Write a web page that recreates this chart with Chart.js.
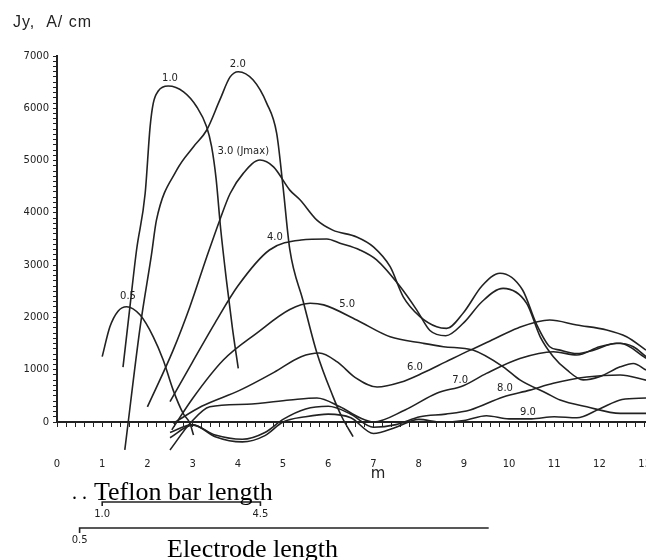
<!DOCTYPE html>
<html>
<head>
<meta charset="utf-8">
<title>Jy along the electrode</title>
<script src="https://cdn.jsdelivr.net/npm/chart.js@4.4.0/dist/chart.umd.min.js"></script>
<style>
  html, body { margin: 0; padding: 0; background: #fff; }
</style>
</head>
<body>
<canvas id="chart" width="646" height="560"></canvas>
<script>
// curve values (x in m, Jy in A/cm)
const c05X = [1.0, 1.17, 1.35, 1.54, 1.84, 2.13, 2.35, 2.57, 2.79, 2.94, 3.02];
const c05Y = [1250, 1820, 2120, 2205, 2045, 1630, 1185, 610, 165, -25, -250];

const c10X = [1.46, 1.6, 1.76, 1.95, 2.06, 2.13, 2.24, 2.46, 2.8, 3.09, 3.31, 3.42, 3.52, 3.62, 3.75, 3.88, 4.01];
const c10Y = [1050, 2100, 3290, 4370, 5650, 6100, 6330, 6425, 6315, 6030, 5645, 5265, 4650, 3700, 2700, 1800, 1025];

const c20X = [1.5, 1.84, 2.09, 2.2, 2.65, 3.02, 3.31, 3.6, 3.83, 4.01, 4.34, 4.64, 4.86, 5.0, 5.15, 5.44, 5.75, 6.1, 6.3, 6.55];
const c20Y = [-535, 1820, 3200, 3860, 4820, 5265, 5580, 6155, 6600, 6700, 6540, 6095, 5520, 4500, 3300, 2330, 1320, 500, 100, -280];

const c30X = [2.0, 2.57, 2.94, 3.31, 3.6, 3.83, 4.12, 4.49, 4.79, 5.15, 5.38, 5.75, 6.1, 6.63, 7.0, 7.37, 7.66, 8.03, 8.4, 8.62, 9.0, 9.4, 9.8, 10.3, 10.6, 10.9, 11.13, 11.5, 11.87, 12.38, 12.75, 13.03];
const c30Y = [290, 1375, 2205, 3150, 3860, 4370, 4755, 5010, 4880, 4435, 4245, 3860, 3670, 3540, 3350, 2970, 2395, 2015, 1820, 1790, 2100, 2600, 2845, 2525, 1885, 1440, 1375, 1310, 1375, 1505, 1440, 1250];

const c40X = [2.5, 3.0, 3.5, 4.0, 4.7, 5.4, 5.97, 6.26, 6.7, 7.07, 7.59, 7.96, 8.25, 8.6, 9.0, 9.4, 9.87, 10.39, 10.69, 10.98, 11.28, 11.64, 12.0, 12.46, 12.75, 13.03];
const c40Y = [390, 1150, 1900, 2600, 3290, 3480, 3500, 3420, 3290, 3100, 2590, 2140, 1750, 1650, 1900, 2300, 2555, 2270, 1630, 1250, 995, 805, 865, 1055, 1120, 995];

const c50X = [2.54, 3.0, 3.68, 4.42, 5.15, 5.6, 5.9, 6.63, 7.37, 8.1, 8.55, 9.2, 9.87, 10.24, 10.83, 11.13, 11.72, 12.46, 13.03];
const c50Y = [-150, 450, 1185, 1700, 2150, 2270, 2240, 1950, 1630, 1505, 1440, 1375, 1055, 805, 550, 420, 290, 165, 165];

const c60X = [2.57, 3.2, 4.05, 4.8, 5.4, 5.8, 6.2, 6.6, 7.08, 7.6, 8.1, 8.6, 9.14, 9.58, 10.2, 10.9, 11.5, 12.16, 12.6, 13.03];
const c60Y = [-25, 300, 610, 950, 1250, 1320, 1150, 850, 670, 760, 940, 1150, 1375, 1550, 1800, 1950, 1855, 1760, 1630, 1375];

const c70X = [2.5, 2.95, 3.38, 4.2, 5.15, 5.75, 6.26, 6.7, 7.0, 7.7, 8.4, 9.0, 9.5, 10.24, 10.98, 11.5, 12.0, 12.46, 13.03];
const c70Y = [-535, -20, 290, 340, 420, 460, 290, 80, 0, 230, 550, 700, 930, 1215, 1345, 1280, 1440, 1505, 1220];

const c80X = [2.5, 3.0, 3.5, 4.1, 4.6, 5.0, 5.5, 6.0, 6.5, 7.0, 7.5, 8.03, 8.6, 9.14, 9.87, 10.46, 10.98, 11.72, 12.46, 13.03];
const c80Y = [-300, -60, -250, -330, -200, 50, 250, 300, 150, -100, -50, 100, 150, 230, 480, 610, 740, 860, 900, 800];

const c90X = [2.5, 3.0, 3.5, 4.1, 4.6, 5.0, 5.5, 6.0, 6.5, 7.0, 7.5, 8.0, 8.5, 9.0, 9.5, 10.0, 10.5, 11.0, 11.5, 12.0, 12.5, 13.03];
const c90Y = [-200, -50, -280, -380, -260, 0, 100, 150, 80, -220, -100, 50, 0, 30, 120, 60, 60, 100, 80, 250, 430, 460];

// curve names and where they are written (data coords)
const curveNames = ["0.5", "1.0", "2.0", "3.0 (Jmax)", "4.0", "5.0", "6.0", "7.0", "8.0", "9.0"];
const nameX = [1.57, 2.5, 4.0, 4.12, 4.82, 6.42, 7.92, 8.92, 9.91, 10.42];
const nameY = [2410, 6580, 6845, 5180, 3540, 2240, 1050, 800, 650, 190];

// bars under the axis (m)
const teflonBar = [1.0, 4.5];
const electrodeBar = [0.5, 9.55];

const ink = "#222";

const curves = [
  [c05X, c05Y], [c10X, c10Y], [c20X, c20Y], [c30X, c30Y], [c40X, c40Y],
  [c50X, c50Y], [c60X, c60Y], [c70X, c70Y], [c80X, c80Y], [c90X, c90Y]
];

const datasets = curves.map((c, i) => ({
  label: curveNames[i],
  data: c[0].map((x, j) => ({ x: x, y: c[1][j] })),
  borderColor: ink,
  borderWidth: 1.6,
  pointRadius: 0,
  cubicInterpolationMode: "monotone",
  clip: false
}));

function isWhole(v) {
  return Math.abs(v - Math.round(v)) < 1e-6;
}

// texts and the two length bars
const annotate = {
  id: "annotate",
  afterDraw(chart) {
    const ctx = chart.ctx;
    const xs = chart.scales.x;
    const ys = chart.scales.y;
    ctx.save();
    ctx.fillStyle = ink;
    ctx.strokeStyle = ink;

    // y title
    ctx.font = '16px "Liberation Sans"';
    ctx.letterSpacing = "1px";
    ctx.textAlign = "left";
    ctx.textBaseline = "alphabetic";
    ctx.fillText("Jy,  A/ cm", 13, 27);
    ctx.letterSpacing = "0px";

    // curve names
    ctx.font = '10px "DejaVu Sans"';
    ctx.textAlign = "center";
    ctx.textBaseline = "middle";
    curveNames.forEach((n, i) => {
      ctx.fillText(n, xs.getPixelForValue(nameX[i]), ys.getPixelForValue(nameY[i]));
    });

    // x unit
    ctx.font = '15px "DejaVu Sans"';
    ctx.fillText("m", xs.getPixelForValue(7.1), 474);

    // teflon bar
    const t0 = xs.getPixelForValue(teflonBar[0]);
    const t1 = xs.getPixelForValue(teflonBar[1]);
    ctx.lineWidth = 1.6;
    ctx.beginPath();
    ctx.moveTo(t0, 506); ctx.lineTo(t0, 502); ctx.lineTo(t1, 502); ctx.lineTo(t1, 506);
    ctx.stroke();

    // electrode bar
    const e0 = xs.getPixelForValue(electrodeBar[0]);
    const e1 = xs.getPixelForValue(electrodeBar[1]);
    ctx.beginPath();
    ctx.moveTo(e0, 533); ctx.lineTo(e0, 528); ctx.lineTo(e1, 528);
    ctx.stroke();

    ctx.font = '10px "DejaVu Sans"';
    ctx.fillText(teflonBar[0].toFixed(1), t0, 514);
    ctx.fillText(teflonBar[1].toFixed(1), t1, 514);
    ctx.fillText(electrodeBar[0].toFixed(1), e0, 540);

    ctx.fillStyle = "#000";
    ctx.font = '26px "Liberation Serif"';
    ctx.textAlign = "left";
    ctx.textBaseline = "alphabetic";
    ctx.font = '20px "Liberation Serif"';
    ctx.fillText(". .", 72, 499);
    ctx.font = '26px "Liberation Serif"';
    ctx.fillText("Teflon bar length", 94, 500);
    ctx.fillText("Electrode length", 167, 557);
    ctx.restore();
  }
};

const tickFont = { family: '"DejaVu Sans"', size: 10 };

new Chart(document.getElementById("chart"), {
  type: "line",
  data: { datasets: datasets },
  options: {
    responsive: false,
    animation: false,
    layout: { padding: { top: 56, right: 0, bottom: 0, left: 0 } },
    plugins: { legend: { display: false }, tooltip: { enabled: false } },
    scales: {
      x: {
        type: "linear",
        min: 0,
        max: 13.03,
        afterFit: s => { s.height = 138; s.paddingRight = 0; s.paddingLeft = 0; },
        border: { color: ink, width: 2 },
        grid: { drawOnChartArea: false, tickLength: 5, tickColor: ink },
        ticks: {
          stepSize: 0.2,
          includeBounds: false,
          autoSkip: false,
          maxRotation: 0,
          minRotation: 0,
          padding: 31,
          color: ink,
          font: tickFont,
          callback: v => isWhole(v) ? String(Math.round(v)) : ""
        }
      },
      y: {
        min: 0,
        max: 7000,
        afterFit: s => { s.width = 57; },
        border: { color: ink, width: 2 },
        grid: { drawOnChartArea: false, tickLength: 4, tickColor: ink },
        ticks: {
          stepSize: 100,
          autoSkip: false,
          padding: 4,
          color: ink,
          font: tickFont,
          callback: v => v % 1000 === 0 ? String(v) : ""
        }
      }
    }
  },
  plugins: [annotate]
});
</script>
</body>
</html>
